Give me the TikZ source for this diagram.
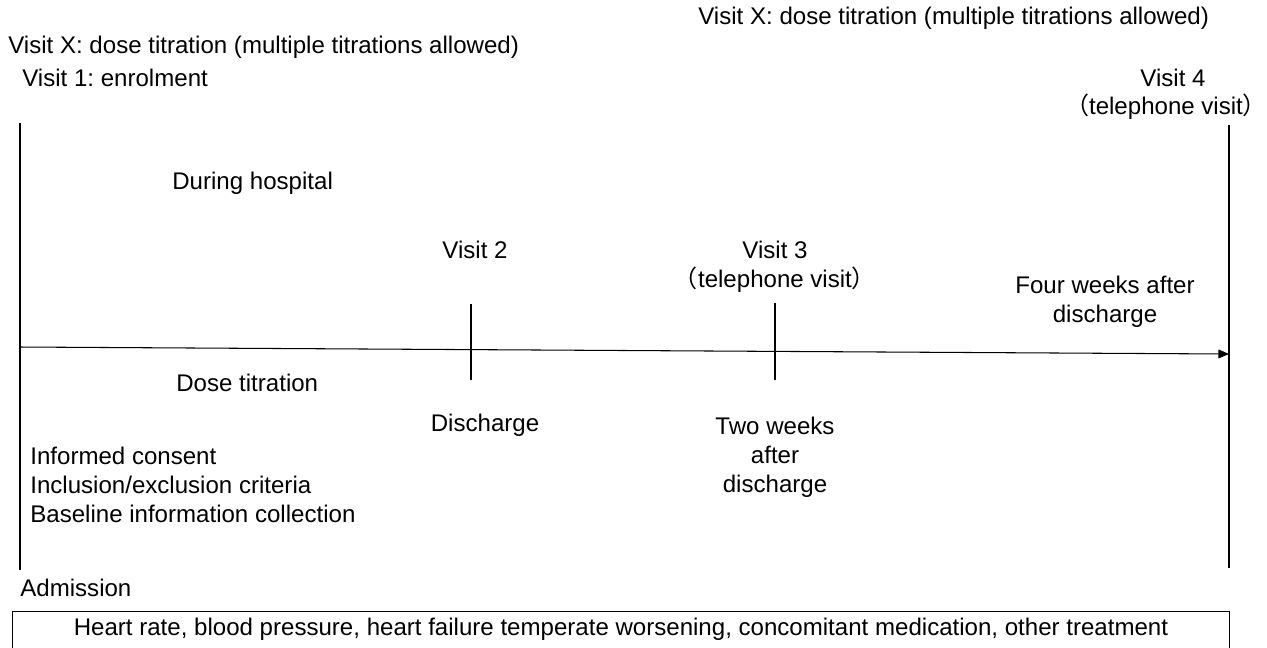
\documentclass[tikz,border=0pt]{standalone}
\usepackage{fontspec}
\setmainfont{Liberation Sans}
\newfontfamily\cjk{Noto Sans CJK SC}
\usetikzlibrary{arrows.meta, positioning}
\frenchspacing

\begin{document}
\begin{tikzpicture}[
    x=0.02cm, y=-0.02cm,
    every node/.style={inner sep=0pt, font=\fontsize{13.7}{16.5}\selectfont},
    lefttext/.style={anchor=west, align=left},
    midtext/.style={align=center},
    bar/.style={line width=1.1pt},
    arrow/.style={-{Triangle[length=6pt, width=5pt]}, line width=0.6pt}
]
\clip (0,0) rectangle (1267,647);
\fill[white] (0,0) rectangle (1267,647);

% Nodes
\node (visitxa) [lefttext] at (8,47) {Visit X: dose titration (multiple titrations allowed)};
\node (visit1) [lefttext] at (22,78) {Visit 1: enrolment};
\node (visitxb) [lefttext] at (698,18) {Visit X: dose titration (multiple titrations allowed)};
\node (visit4) at (1173,78) {Visit 4};
\node (v4tel) at (1166,107) {{\cjk （}telephone visit{\cjk ）}};
\node (hosp) [lefttext] at (172,183) {During hospital};
\node (visit2) at (475,250) {Visit 2};
\node (visit3) [midtext] at (775,267) {Visit 3\\{\cjk （}telephone visit{\cjk ）}};
\node (fourwk) [midtext] at (1105,302) {Four weeks after\\discharge};
\node (dose) [lefttext] at (176,383) {Dose titration};
\node (disch) at (485,425) {Discharge};
\node (twowk) [midtext] at (775,457) {Two weeks\\after\\discharge};
\node (tasks) [lefttext] at (30,485) {Informed consent\\Inclusion/exclusion criteria\\Baseline information collection};
\node (adm) [lefttext] at (20,588) {Admission};
\node (measures) [draw, line width=0.6pt, anchor=north, minimum width=24.36cm,
    inner ysep=3.4pt, text height=10pt, text depth=1cm] at (621,611)
    {Heart rate, blood pressure, heart failure temperate worsening, concomitant medication, other treatment};

% Timeline
\coordinate (admtop) at (20,123);
\coordinate (admbot) at (20,570);
\coordinate (endtop) at (1229,125);
\coordinate (endbot) at (1229,568);
\coordinate (v2top) at (471,304);
\coordinate (v2bot) at (471,380);
\coordinate (v3top) at (775,303);
\coordinate (v3bot) at (775,380);
\coordinate (start) at (20,347);
\coordinate (end) at (1229,354);

\draw[bar] (admtop) -- (admbot);
\draw[bar] (endtop) -- (endbot);
\draw[bar] (v2top) -- (v2bot);
\draw[bar] (v3top) -- (v3bot);

% Arrows
\draw[arrow] (start) -- (end);

\end{tikzpicture}
\end{document}
